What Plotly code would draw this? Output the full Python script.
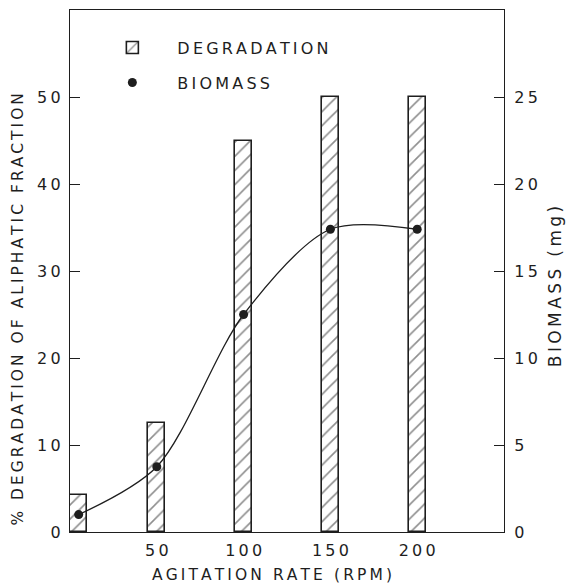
import plotly.graph_objects as go

# Data
rpm = [5, 50, 100, 150, 200]
degradation = [4.2, 12.5, 45, 50, 50]
biomass = [1.0, 3.75, 12.5, 17.4, 17.4]
x_ticks = [50, 100, 150, 200]
y_ticks = [0, 10, 20, 30, 40, 50]
y2_ticks = [0, 5, 10, 15, 20, 25]

TS = "\u2009"
def sp(s):
    return TS.join(list(s))

INK = "#1e1e1e"
FONT = "DejaVu Sans"

fig = go.Figure()
fig.add_trace(go.Bar(
    x=rpm, y=degradation, width=10, name=sp("DEGRADATION"),
    marker=dict(color="white", line=dict(color=INK, width=1.6),
                pattern=dict(shape="/", fgcolor=INK, bgcolor="white", size=10, solidity=0.16)),
    legend="legend",
))
fig.add_trace(go.Scatter(
    x=rpm, y=biomass, yaxis="y2", mode="lines", line=dict(color=INK, width=1.3, shape="spline", smoothing=0.85),
    showlegend=False, hoverinfo="skip",
))
fig.add_trace(go.Scatter(
    x=rpm, y=biomass, yaxis="y2", mode="markers", name=sp("BIOMASS"),
    marker=dict(color=INK, size=9), legend="legend2",
))

tickfont = dict(family=FONT, size=16, color=INK)
fig.update_layout(
    width=568, height=584,
    margin=dict(l=70, r=64, t=10, b=52),
    paper_bgcolor="white", plot_bgcolor="white",
    bargap=0,
    xaxis=dict(range=[0, 250], showgrid=False, zeroline=False, showline=True, linecolor=INK, linewidth=1.3,
               mirror=True, ticks="", tickvals=x_ticks, ticktext=[sp(str(v)) for v in x_ticks],
               tickfont=tickfont, ticklabelstandoff=4),
    yaxis=dict(range=[0, 60], showgrid=False, zeroline=False, showline=True, linecolor=INK, linewidth=1.3,
               ticks="inside", ticklen=10, tickcolor=INK, tickwidth=1.3,
               tickvals=y_ticks, ticktext=[sp(str(v)) for v in y_ticks], tickfont=tickfont, ticklabelstandoff=5),
    yaxis2=dict(range=[0, 30], overlaying="y", side="right", showgrid=False, zeroline=False, showline=True,
                linecolor=INK, linewidth=1.3, ticks="inside", ticklen=10, tickcolor=INK, tickwidth=1.3,
                tickvals=y2_ticks, ticktext=[sp(str(v)) for v in y2_ticks], tickfont=tickfont, ticklabelstandoff=6),
    legend=dict(x=0.04, y=0.928, xanchor="left", yanchor="middle", bgcolor="rgba(0,0,0,0)",
                font=dict(family=FONT, size=16, color=INK), itemwidth=80),
    legend2=dict(x=0.04, y=0.861, xanchor="left", yanchor="middle", bgcolor="rgba(0,0,0,0)",
                 font=dict(family=FONT, size=16, color=INK), itemwidth=80),
    annotations=[
        dict(text=sp("% DEGRADATION OF ALIPHATIC FRACTION"), xref="paper", yref="paper", x=-0.12, y=0.426,
             xanchor="center", yanchor="middle",
             textangle=-90, showarrow=False, font=dict(family=FONT, size=15.4, color=INK)),
        dict(text=sp("BIOMASS (mg)"), xref="paper", yref="paper", x=1.1175, y=0.471,
             xanchor="center", yanchor="middle",
             textangle=-90, showarrow=False, font=dict(family=FONT, size=17, color=INK)),
        dict(text=sp("AGITATION RATE (RPM)"), xref="paper", yref="paper", x=0.465, y=-0.083,
             xanchor="center", yanchor="middle",
             showarrow=False, font=dict(family=FONT, size=15.5, color=INK)),
    ],
)
fig.write_html("out.html")
